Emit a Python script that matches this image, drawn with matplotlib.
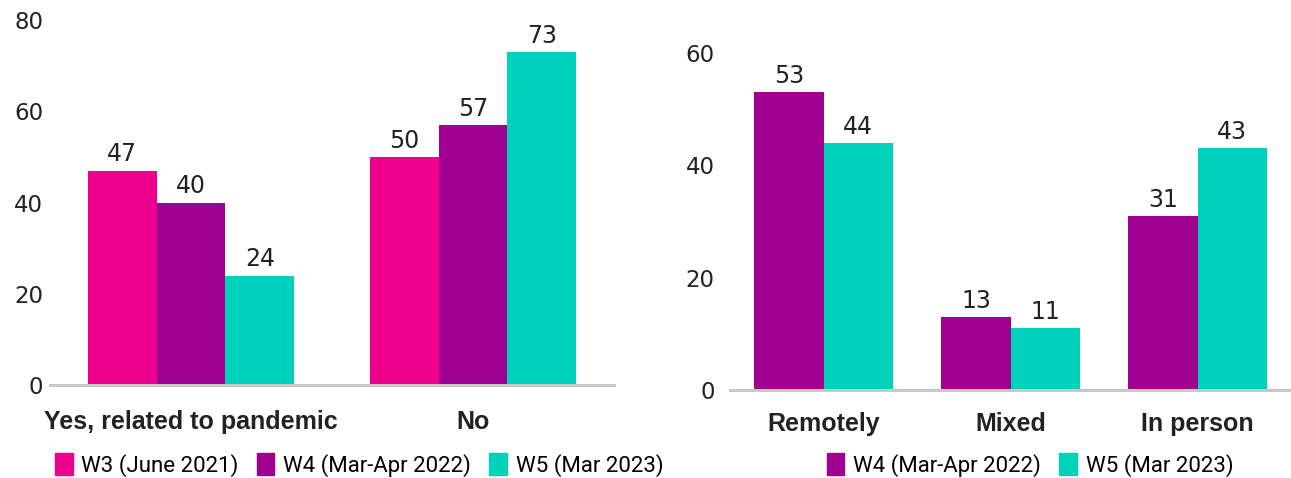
import numpy as np
import matplotlib.pyplot as plt
from matplotlib.patches import Patch

plt.rcParams['font.family'] = ['Roboto', 'DejaVu Sans']

# left chart data
left_cats = ["Yes, related to pandemic", "No"]
w3_left = [47, 50]
w4_left = [40, 57]
w5_left = [24, 73]

# right chart data
right_cats = ["Remotely", "Mixed", "In person"]
w4_right = [53, 13, 31]
w5_right = [44, 11, 43]

labels = ["W3 (June 2021)", "W4 (Mar-Apr 2022)", "W5 (Mar 2023)"]
PINK = "#EC008C"
PURPLE = "#A0008F"
TEAL = "#00D1BA"
GRID = "#C8C8C8"
CAT_FONT = ['Liberation Sans', 'DejaVu Sans']
NUM_FONT = ['DejaVu Sans']

W, H = 1291, 478
fig = plt.figure(figsize=(W / 100, H / 100), dpi=100)

#helper to place axes from pixel coordinates
def px_axes(x0, x1, y_bottom, y_top):
    return fig.add_axes([x0 / W, 1 - y_bottom / H, (x1 - x0) / W, (y_bottom - y_top) / H])

def style(ax):
    for s in ["left", "right", "top"]:
        ax.spines[s].set_visible(False)
    ax.spines["bottom"].set_color(GRID)
    ax.spines["bottom"].set_linewidth(2.2)
    ax.tick_params(axis="both", length=0, colors="#222222")
    ax.tick_params(axis="y", labelsize=16.5)
    for t in ax.get_yticklabels():
        t.set_family(NUM_FONT)

def label_bars(ax, bars):
    for b in bars:
        ax.annotate(f"{b.get_height():.0f}", (b.get_x() + b.get_width() / 2, b.get_height()),
                    xytext=(0, 3), textcoords="offset points", ha="center", va="bottom",
                    fontsize=17, color="#222222", family=NUM_FONT)

# ---- left chart
ax1 = px_axes(50, 614, 385, 20)
x = np.arange(len(left_cats))
bw = 0.244
b1 = ax1.bar(x - bw, w3_left, bw, color=PINK)
b2 = ax1.bar(x, w4_left, bw, color=PURPLE)
b3 = ax1.bar(x + bw, w5_left, bw, color=TEAL)
for bs in (b1, b2, b3):
    label_bars(ax1, bs)
ax1.set_xlim(-0.5, 1.5)
ax1.set_ylim(0, 80)
ax1.set_yticks([0, 20, 40, 60, 80])
ax1.set_xticks(x)
ax1.set_xticklabels(left_cats, fontsize=18, fontweight="bold", family=CAT_FONT)
style(ax1)
ax1.tick_params(axis="x", pad=18)
ax1.tick_params(axis="y", pad=5)

# ---- right chart
ax2 = px_axes(730, 1291, 390, 53)
x2 = np.arange(len(right_cats))
bw2 = 0.37
c1 = ax2.bar(x2 - bw2 / 2, w4_right, bw2, color=PURPLE)
c2 = ax2.bar(x2 + bw2 / 2, w5_right, bw2, color=TEAL)
for bs in (c1, c2):
    label_bars(ax2, bs)
ax2.set_xlim(-0.5, 2.5)
ax2.set_ylim(0, 60)
ax2.set_yticks([0, 20, 40, 60])
ax2.set_xticks(x2)
ax2.set_xticklabels(right_cats, fontsize=18, fontweight="bold", family=CAT_FONT)
style(ax2)
ax2.tick_params(axis="x", pad=16)
ax2.tick_params(axis="y", pad=11)

# ---- legends
cols = [PINK, PURPLE, TEAL]
h_left = [Patch(color=c, label=l) for c, l in zip(cols, labels)]
fig.legend(handles=h_left, loc="center", bbox_to_anchor=(359 / W, 1 - 465 / H), ncol=3,
           frameon=False, fontsize=16, handlelength=0.8, handleheight=1.1,
           handletextpad=0.4, columnspacing=0.8, borderpad=0)
fig.legend(handles=h_left[1:], loc="center", bbox_to_anchor=(1030 / W, 1 - 465 / H), ncol=2,
           frameon=False, fontsize=16, handlelength=0.8, handleheight=1.1,
           handletextpad=0.4, columnspacing=0.8, borderpad=0)

fig.savefig("out.png", dpi=100)
